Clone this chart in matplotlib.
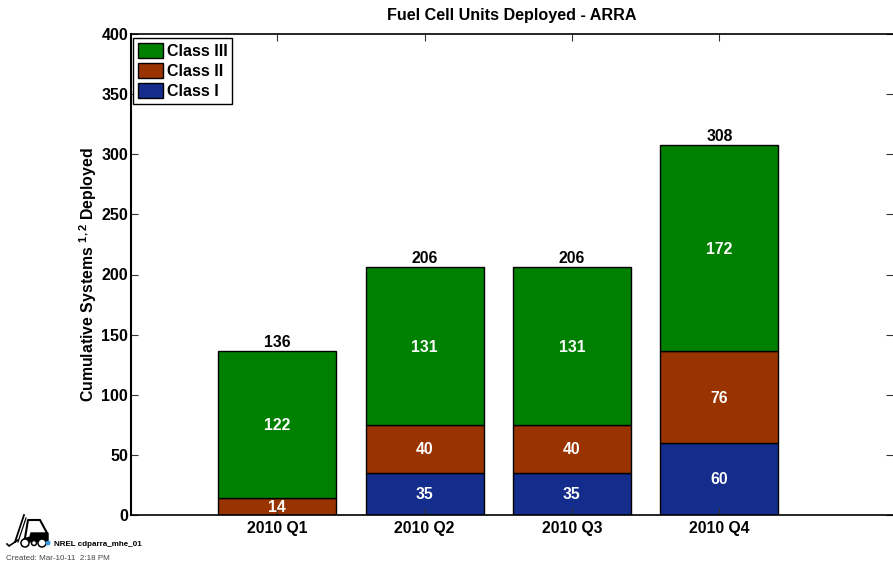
import numpy as np
import matplotlib
matplotlib.use('Agg')
import matplotlib.pyplot as plt
from matplotlib.patches import Circle, Polygon

plt.rcParams['font.family'] = ['Liberation Sans', 'DejaVu Sans']
plt.rcParams['font.weight'] = 'bold'
plt.rcParams['mathtext.fontset'] = 'custom'
plt.rcParams['mathtext.bf'] = 'Liberation Sans:bold'
plt.rcParams['mathtext.rm'] = 'Liberation Sans'

quarters = ['2010 Q1', '2010 Q2', '2010 Q3', '2010 Q4']
class1 = [0, 35, 35, 60]
class2 = [14, 40, 40, 76]
class3 = [122, 131, 131, 172]
totals = [136, 206, 206, 308]
yticks = [0, 50, 100, 150, 200, 250, 300, 350, 400]

W, H = 893, 565
green = '#008000'
brown = '#993300'
blue = '#142c8c'

fig = plt.figure(figsize=(W / 100, H / 100), dpi=100)
ax = fig.add_axes([131 / W, 1 - 515 / H, (W - 131) / W, (515 - 34) / H])

x = np.arange(1, 5)
b1 = np.array(class1)
b2 = b1 + np.array(class2)
ax.bar(x, class1, 0.8, color=blue, edgecolor='black', linewidth=1, label='Class I')
ax.bar(x, class2, 0.8, bottom=b1, color=brown, edgecolor='black', linewidth=1, label='Class II')
ax.bar(x, class3, 0.8, bottom=b2, color=green, edgecolor='black', linewidth=1, label='Class III')

for i in range(4):
    if class1[i] > 0:
        ax.text(x[i], class1[i] / 2 - 0.8, str(class1[i]), color='white', fontsize=11.3, ha='center', va='center')
    ax.text(x[i], b1[i] + class2[i] / 2 - 0.8, str(class2[i]), color='white', fontsize=11.3, ha='center', va='center')
    ax.text(x[i], b2[i] + class3[i] / 2 - 0.8, str(class3[i]), color='white', fontsize=11.3, ha='center', va='center')
    ax.text(x[i], totals[i] + 0.8, str(totals[i]), color='black', fontsize=11.3, ha='center', va='bottom')

ax.set_xlim(0.0085, 0.0085 + (W - 131) / 147.4)
ax.set_ylim(0, 400)
ax.set_xticks(x)
ax.set_xticklabels(quarters, fontsize=11.3)
ax.set_yticks(yticks)
ax.tick_params(axis='y', labelsize=11.5, direction='in', length=5, width=0.8, color='#333333', right=True, pad=2)
ax.tick_params(axis='x', direction='in', length=5, width=0.8, color='#333333', top=True, pad=4.5)
ax.spines['right'].set_visible(False)
ax.spines['left'].set_linewidth(1.5)
ax.spines['top'].set_linewidth(1.2)
ax.spines['bottom'].set_linewidth(1.2)
ax.set_ylabel('Cumulative Systems $^{\\mathbf{1,2}}$ Deployed', fontsize=11.4, fontweight='bold', labelpad=1.5)
ax.set_title('Fuel Cell Units Deployed - ARRA', fontsize=11.6, fontweight='bold', pad=10)

h, l = ax.get_legend_handles_labels()
ax.legend(h[::-1], l[::-1], loc='upper left', bbox_to_anchor=(0.003, 0.992), borderaxespad=0,
          fontsize=11.5, fancybox=False, framealpha=1, edgecolor='black',
          handlelength=1.55, handleheight=1.1, handletextpad=0.25, labelspacing=0.26, borderpad=0.3)

# forklift logo, in pixel coordinates
icon = fig.add_axes([0, 0, 1, 1], facecolor='none')
icon.set_xlim(0, W)
icon.set_ylim(H, 0)
icon.axis('off')
icon.plot([15, 24], [542, 515], color='black', lw=1.3)
icon.plot([18, 26], [542, 518], color='black', lw=0.9)
icon.plot([7, 9, 18], [544, 546, 540], color='black', lw=1.2)
icon.plot([25, 28, 40, 47, 47], [538, 520, 520, 533, 540], color='black', lw=1.5)
icon.add_patch(Polygon([[24, 539], [30, 537], [31, 533], [48, 533], [48, 541], [24, 542]], color='black'))
for cx, r in [(25, 4), (34, 2.5), (42, 4)]:
    icon.add_patch(Circle((cx, 543), r, facecolor='white', edgecolor='black', lw=1.1))
icon.add_patch(Circle((48, 543), 1.8, color='#3399dd'))
icon.text(54.5, 545, 'NREL cdparra_mhe_01', fontsize=5.8, va='center', ha='left')
icon.text(6, 559, 'Created: Mar-10-11  2:18 PM', fontsize=5.8, fontweight='normal', color='#444444', va='center', ha='left')

fig.savefig('out.png', dpi=100)
